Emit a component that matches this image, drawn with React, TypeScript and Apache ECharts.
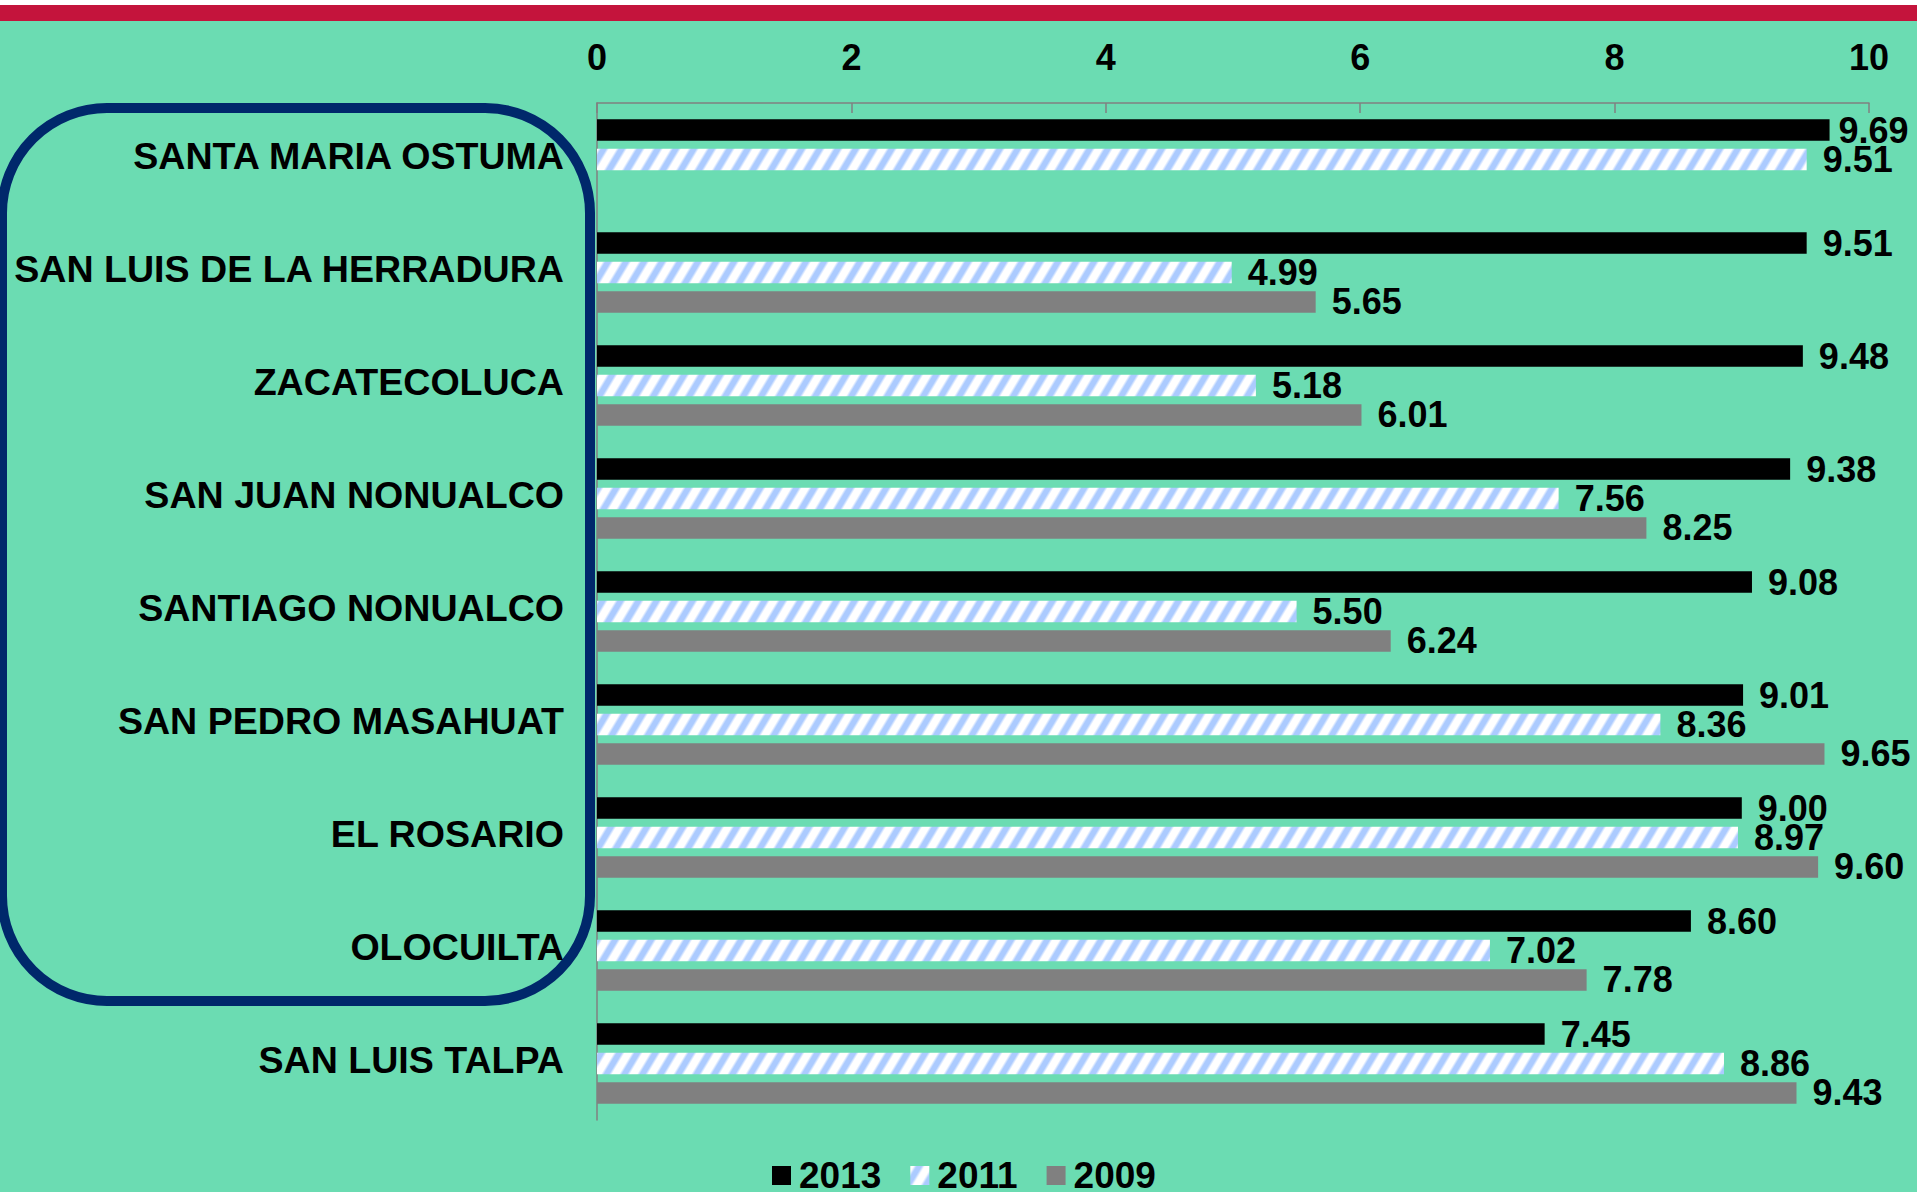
import React, { useEffect, useRef } from 'react';
import * as echarts from 'echarts';

const categories = [
  'SANTA MARIA OSTUMA',
  'SAN LUIS DE LA HERRADURA',
  'ZACATECOLUCA',
  'SAN JUAN NONUALCO',
  'SANTIAGO NONUALCO',
  'SAN PEDRO MASAHUAT',
  'EL ROSARIO',
  'OLOCUILTA',
  'SAN LUIS TALPA',
];
const values2013 = [9.69, 9.51, 9.48, 9.38, 9.08, 9.01, 9.0, 8.6, 7.45];
const values2011 = [9.51, 4.99, 5.18, 7.56, 5.5, 8.36, 8.97, 7.02, 8.86];
const values2009 = [null, 5.65, 6.01, 8.25, 6.24, 9.65, 9.6, 7.78, 9.43];
const seriesNames = ['2013', '2011', '2009'];

const FONT = '"Liberation Sans", Arial, sans-serif';

function makeHatch(): HTMLCanvasElement {
  const W = 18;
  const H = 30;
  const k = W / H;
  const c = document.createElement('canvas');
  c.width = W;
  c.height = H;
  const ctx = c.getContext('2d')!;
  const img = ctx.createImageData(W, H);
  const blue = [172, 203, 255];
  const center = W / 2;
  for (let y = 0; y < H; y++) {
    for (let x = 0; x < W; x++) {
      const phase = (((x + 0.5 + k * (y + 0.5)) % W) + W) % W;
      let d = Math.abs(phase - center);
      d = Math.min(d, W - d);
      let w = (5.5 - d) / 3;
      w = Math.max(0, Math.min(1, w));
      const i = (y * W + x) * 4;
      img.data[i] = Math.round(255 * (1 - w) + blue[0] * w);
      img.data[i + 1] = Math.round(255 * (1 - w) + blue[1] * w);
      img.data[i + 2] = Math.round(255 * (1 - w) + blue[2] * w);
      img.data[i + 3] = 255;
    }
  }
  ctx.putImageData(img, 0, 0);
  return c;
}

export default function App() {
  const ref = useRef<HTMLDivElement>(null);
  useEffect(() => {
    document.body.style.margin = '0';
    const chart = echarts.init(ref.current!, null, { renderer: 'svg' });
    const hatch = makeHatch();
    const hatchFill: any = { image: hatch, repeat: 'repeat', imageWidth: 18, imageHeight: 30 };
    const colors = ['#000000', hatchFill, '#808080'];
    const dataSets = [values2013, values2011, values2009];
    const labelStyle = {
      show: true,
      position: 'right',
      distance: 16,
      color: '#000',
      fontSize: 36,
      fontWeight: 'bold',
      fontFamily: FONT,
      formatter: (p: any) => (p.value == null ? '' : Number(p.value).toFixed(2)),
    };
    const buildData = (vals: (number | null)[]) =>
      vals.map((v) => (v != null && v > 9.66 ? { value: v, label: { distance: 9 } } : v));
    chart.setOption({
      animation: false,
      backgroundColor: '#6BDCB2',
      textStyle: { fontFamily: FONT, fontWeight: 'bold' },
      graphic: [
        { type: 'rect', shape: { x: 0, y: 0, width: 1917, height: 5 }, style: { fill: '#ffffff' }, z: 10 },
        { type: 'rect', shape: { x: 0, y: 5, width: 1917, height: 16 }, style: { fill: '#C4143C' }, z: 10 },
        {
          type: 'rect',
          shape: { x: 2, y: 108, width: 588, height: 893, r: 105 },
          style: { fill: 'none', stroke: '#00286B', lineWidth: 10 },
          z: -10,
        },
      ],
      grid: { left: 597, right: 48, top: 103, bottom: 72, containLabel: false },
      xAxis: {
        type: 'value',
        position: 'top',
        min: 0,
        max: 10,
        interval: 2,
        axisLine: { show: true, lineStyle: { color: '#808080', width: 1.5 } },
        axisTick: { show: true, inside: true, length: 10, lineStyle: { color: '#808080', width: 1.5 } },
        splitLine: { show: false },
        axisLabel: { fontSize: 36, fontWeight: 'bold', color: '#000', margin: 28, fontFamily: FONT },
      },
      yAxis: {
        type: 'category',
        inverse: true,
        data: categories,
        axisLine: { show: true, lineStyle: { color: '#808080', width: 1.5 } },
        axisTick: { show: false },
        axisLabel: {
          fontSize: 37.6,
          fontWeight: 'bold',
          color: '#000',
          margin: 33,
          fontFamily: FONT,
          verticalAlign: 'bottom',
          lineHeight: 7,
        },
      },
      legend: {
        data: seriesNames,
        left: 772,
        top: 1157,
        padding: 0,
        itemWidth: 19,
        itemHeight: 19,
        itemGap: 29,
        icon: 'rect',
        textStyle: {
          fontSize: 37,
          fontWeight: 'bold',
          color: '#000',
          fontFamily: FONT,
          lineHeight: 30,
          padding: [0, 0, 0, 3],
        },
      },
      series: seriesNames.map((name, i) => ({
        name,
        type: 'bar',
        data: buildData(dataSets[i]),
        barWidth: 21.5,
        barGap: '37%',
        itemStyle: { color: colors[i] },
        label: labelStyle,
      })),
    });
    return () => chart.dispose();
  }, []);
  return <div ref={ref} style={{ width: 1917, height: 1192 }} />;
}
